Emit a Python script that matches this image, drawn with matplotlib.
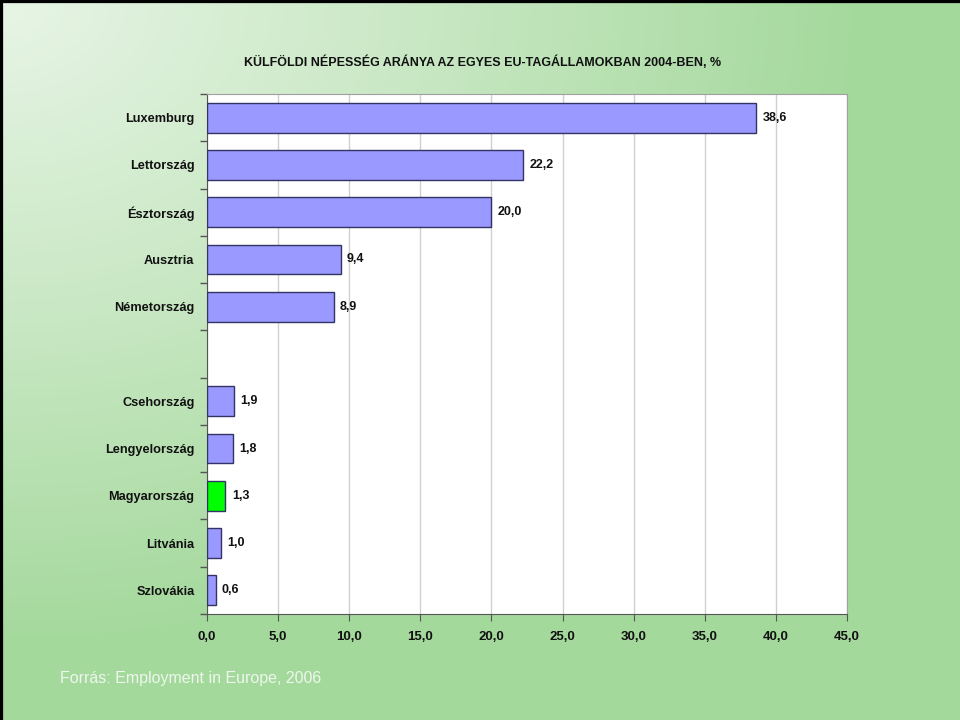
import numpy as np
import matplotlib
matplotlib.use("Agg")
import matplotlib.pyplot as plt
from matplotlib.colors import LinearSegmentedColormap

plt.rcParams['font.family'] = ['Liberation Sans', 'DejaVu Sans']

# data (top to bottom), "" marks the empty slot in the original chart
countries = ["Luxemburg", "Lettország", "Észtország", "Ausztria", "Németország", "",
             "Csehország", "Lengyelország", "Magyarország", "Litvánia", "Szlovákia"]
values = [38.6, 22.2, 20.0, 9.4, 8.9, np.nan, 1.9, 1.8, 1.3, 1.0, 0.6]
highlight = "Magyarország"
x_ticks = [0, 5, 10, 15, 20, 25, 30, 35, 40, 45]

title = "KÜLFÖLDI NÉPESSÉG ARÁNYA AZ EGYES EU-TAGÁLLAMOKBAN 2004-BEN, %"
source = "Forrás: Employment in Europe, 2006"

fig = plt.figure(figsize=(9.6, 7.2), dpi=100)

# background gradient, light in the top-left corner
bg = fig.add_axes([0, 0, 1, 1], zorder=-10)
yy, xx = np.mgrid[0:1:300j, 0:1:400j]
t = np.clip(np.sqrt(xx ** 2 + yy ** 2) / 0.9, 0, 1)
cmap = LinearSegmentedColormap.from_list("bg", ["#e8f5e6", "#c8e7c3", "#a4d99c"])
bg.imshow(t, cmap=cmap, aspect="auto", extent=[0, 1, 0, 1], origin="upper")
bg.set_xlim(0, 1)
bg.set_ylim(0, 1)
bg.axis("off")
# black edge on top and left
bg.plot([0, 0, 1], [0, 1, 1], color="black", lw=4.5, clip_on=True)

ax = fig.add_axes([0.2156, 0.1472, 0.6667, 0.7222])
ax.set_facecolor("white")

ypos = np.arange(len(countries))
colors = ["#00ff00" if c == highlight else "#9999ff" for c in countries]
ax.barh(ypos, values, height=0.63, color=colors, edgecolor="#333366", linewidth=1, zorder=3)

for y, v in zip(ypos, values):
    if np.isnan(v):
        continue
    ax.text(v + 0.45, y, f"{v:.1f}".replace(".", ","), va="center", ha="left",
            fontsize=9, fontweight="bold", color="#111111", zorder=4)

ax.set_xlim(0, 45)
ax.set_ylim(len(countries) - 0.5, -0.5)
ax.set_xticks(x_ticks)
ax.set_xticklabels([f"{x:.1f}".replace(".", ",") for x in x_ticks],
                   fontsize=9.5, fontweight="bold", color="#111111")
ax.set_yticks(ypos)
ax.set_yticklabels(countries, fontsize=9.2, fontweight="bold", color="#111111")
ax.set_yticks(np.arange(-0.5, len(countries)), minor=True)
ax.tick_params(axis="y", which="major", length=0, pad=9)
ax.tick_params(axis="y", which="minor", length=5, color="#555555", width=1)
ax.tick_params(axis="x", length=5, color="#555555", pad=7)

ax.grid(axis="x", color="#d0d0d0", lw=1, zorder=0)
ax.set_axisbelow(True)
for side in ["top", "right"]:
    ax.spines[side].set_color("#a0a0a0")
for side in ["left", "bottom"]:
    ax.spines[side].set_color("#555555")

fig.text(0.503, 0.914, title, ha="center", va="center", fontsize=9,
         fontweight="bold", color="#111111")
fig.text(0.062, 0.058, source, ha="left", va="center", fontsize=11.5, color="#eef6ee")

fig.savefig("out.png", dpi=100)
